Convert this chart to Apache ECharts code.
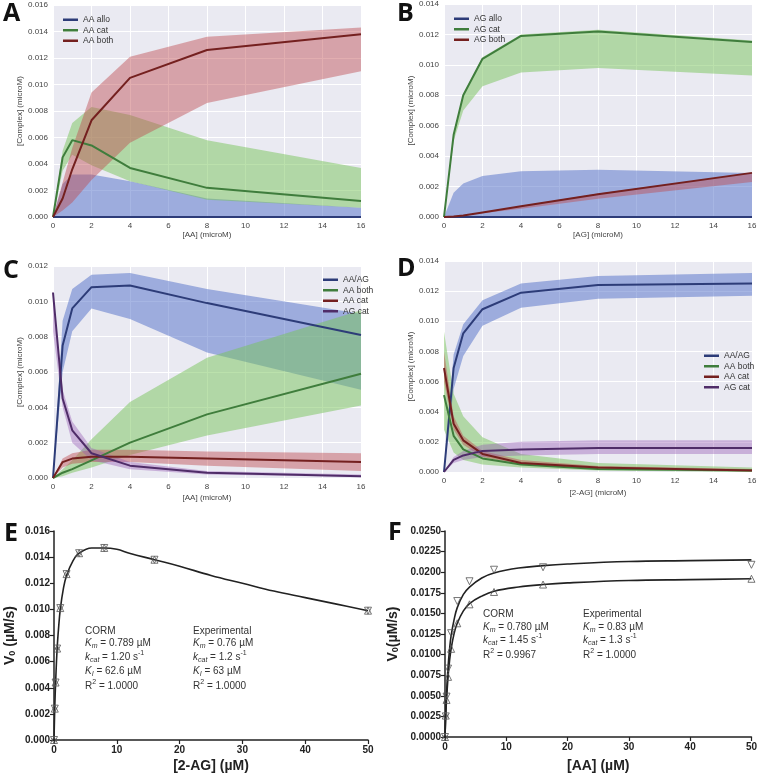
<!DOCTYPE html>
<html><head><meta charset="utf-8">
<script src="https://cdn.jsdelivr.net/npm/echarts@6/dist/echarts.min.js"></script>
<style>html,body{margin:0;padding:0;background:#fff}#c{width:760px;height:775px}</style>
</head><body><div id="c"></div>
<script>
// ---------- data: panels A-D (seaborn time-series, mean + CI band) ----------
const xConc = [0, 0.5, 1, 2, 4, 8, 16];

// Panel A
const aAlloMean = [0, 0, 0, 0, 0, 0, 0];
const aAlloLow  = [0, 0, 0, 0, 0, 0, 0];
const aAlloHigh = [0, 0.0025, 0.0032, 0.0032, 0.0027, 0.0014, 0.0007];
const aCatMean  = [0, 0.0045, 0.0058, 0.0054, 0.0037, 0.0022, 0.0012];
const aCatLow   = [0, 0.0035, 0.0047, 0.0039, 0.0027, 0.0013, 0.0007];
const aCatHigh  = [0, 0.0050, 0.0071, 0.0083, 0.0077, 0.0058, 0.0037];
const aBothMean = [0, 0.0014, 0.0036, 0.0073, 0.0105, 0.0126, 0.0138];
const aBothLow  = [0, 0.0005, 0.0011, 0.0028, 0.0056, 0.0086, 0.0110];
const aBothHigh = [0, 0.0026, 0.0052, 0.0094, 0.0121, 0.0136, 0.0143];

// Panel B
const bAlloMean = [0, 0, 0, 0, 0, 0, 0];
const bAlloLow  = [0, 0, 0, 0, 0, 0, 0];
const bAlloHigh = [0, 0.0016, 0.0022, 0.0027, 0.0030, 0.0031, 0.0029];
const bCatMean  = [0, 0.0054, 0.0080, 0.0104, 0.0119, 0.0122, 0.0115];
const bCatLow   = [0, 0.0050, 0.0070, 0.0086, 0.0095, 0.0098, 0.0093];
const bCatHigh  = [0, 0.0055, 0.0081, 0.0105, 0.0120, 0.0123, 0.0116];
const bBothMean = [0, 0.00003, 0.0001, 0.0003, 0.0007, 0.0015, 0.0029];
const bBothLow  = [0, 0.00002, 0.00008, 0.00024, 0.00055, 0.0012, 0.0023];
const bBothHigh = [0, 0.00004, 0.00011, 0.00031, 0.00072, 0.00155, 0.0029];

// Panel C
const cAAAGMean  = [0, 0.0075, 0.0096, 0.0108, 0.0109, 0.0099, 0.0081];
const cAAAGLow   = [0, 0.0060, 0.0083, 0.0096, 0.0090, 0.0071, 0.0050];
const cAAAGHigh  = [0, 0.0089, 0.0107, 0.0115, 0.0116, 0.0107, 0.0093];
const cBothMean  = [0, 0.0003, 0.0005, 0.0010, 0.0020, 0.0036, 0.0059];
const cBothLow   = [0, 0.0001, 0.0003, 0.0006, 0.0013, 0.0024, 0.0041];
const cBothHigh  = [0, 0.0005, 0.0010, 0.0022, 0.0043, 0.0068, 0.0095];
const cAACatMean = [0, 0.0009, 0.0011, 0.0012, 0.0012, 0.0011, 0.0009];
const cAACatLow  = [0, 0.0006, 0.0008, 0.0009, 0.0009, 0.0007, 0.0004];
const cAACatHigh = [0, 0.0011, 0.0014, 0.0016, 0.0016, 0.0015, 0.0014];
const cAGCatMean = [0.0105, 0.0045, 0.0027, 0.0014, 0.0007, 0.0003, 0.0001];
const cAGCatLow  = [0.0083, 0.0040, 0.0020, 0.0010, 0.0005, 0.0002, 0.00005];
const cAGCatHigh = [0.0105, 0.0050, 0.0032, 0.0017, 0.0009, 0.0004, 0.0002];

// Panel D
const dAAAGMean  = [0, 0.0069, 0.0092, 0.0108, 0.0119, 0.0124, 0.0125];
const dAAAGLow   = [0, 0.0055, 0.0077, 0.0097, 0.0109, 0.0115, 0.0117];
const dAAAGHigh  = [0, 0.0078, 0.0098, 0.0114, 0.0125, 0.0130, 0.0132];
const dBothMean  = [0.0051, 0.0024, 0.0015, 0.0009, 0.0005, 0.0002, 0.0001];
const dBothLow   = [0.0028, 0.0013, 0.0008, 0.0005, 0.0003, 0.0001, 0.0000];
const dBothHigh  = [0.0093, 0.0052, 0.0037, 0.0023, 0.0012, 0.0006, 0.0003];
const dAACatMean = [0.0069, 0.0032, 0.0021, 0.0012, 0.0006, 0.0003, 0.0001];
const dAACatLow  = [0.0060, 0.0028, 0.0018, 0.0010, 0.0005, 0.0002, 0.0001];
const dAACatHigh = [0.0080, 0.0037, 0.0024, 0.0014, 0.0008, 0.0004, 0.0002];
const dAGCatMean = [0, 0.0008, 0.0011, 0.0014, 0.0015, 0.0016, 0.0016];
const dAGCatLow  = [0, 0.0006, 0.0008, 0.0010, 0.0011, 0.0012, 0.0012];
const dAGCatHigh = [0, 0.0010, 0.0014, 0.0018, 0.0020, 0.0021, 0.0021];

// ---------- data: panel E ----------
const ePtsX = [0, 0.125, 0.25, 0.5, 1, 2, 4, 8, 16, 50];
const ePtsCorm = [0, 0.0024, 0.0044, 0.0070, 0.0101, 0.0127, 0.0143, 0.0147, 0.0138, 0.0099];
const ePtsExp  = [0, 0.0024, 0.0044, 0.0070, 0.0101, 0.0127, 0.0143, 0.0147, 0.0138, 0.0099];
const eCurveX = [0, 0.125, 0.25, 0.5, 0.75, 1, 1.5, 2, 3, 4, 6, 8, 10, 12, 16, 20, 25, 30, 35, 40, 45, 50];
const eCurveY = [0, 0.0025, 0.0043, 0.0070, 0.0087, 0.0100, 0.0116, 0.0126, 0.0137, 0.0143, 0.0147, 0.0147, 0.0146, 0.0143, 0.0138, 0.0133, 0.0126, 0.0120, 0.0114, 0.0109, 0.0104, 0.0099];

// ---------- data: panel F ----------
const fPtsX = [0, 0.125, 0.25, 0.5, 1, 2, 4, 8, 16, 50];
const fPtsCorm = [0, 0.0025, 0.0049, 0.0083, 0.0126, 0.0165, 0.0189, 0.0203, 0.0206, 0.0209];
const fPtsExp  = [0, 0.0026, 0.0045, 0.0073, 0.0107, 0.0138, 0.0161, 0.0176, 0.0185, 0.0192];
const fCurveX = [0, 0.125, 0.25, 0.5, 0.75, 1, 1.5, 2, 3, 4, 6, 8, 12, 16, 20, 30, 40, 50];
const fCurveCorm = [0, 0.0030, 0.0053, 0.0085, 0.0107, 0.0123, 0.0143, 0.0157, 0.0173, 0.0182, 0.0193, 0.0199, 0.0205, 0.0208, 0.0210, 0.0213, 0.0214, 0.0215];
const fCurveExp  = [0, 0.0026, 0.0045, 0.0073, 0.0093, 0.0107, 0.0126, 0.0138, 0.0153, 0.0162, 0.0171, 0.0177, 0.0182, 0.0185, 0.0187, 0.0190, 0.0191, 0.0192];

// ---------- styles ----------
const FONT = '"Liberation Sans", Arial, sans-serif';
const L_BLUE = '#2d3c78', L_GREEN = '#3f7d3c', L_RED = '#74201f', L_PURPLE = '#4f2c68';
const B_BLUE = 'rgba(80,110,200,0.5)', B_GREEN = 'rgba(120,195,90,0.5)',
      B_RED = 'rgba(190,75,80,0.45)', B_PURPLE = 'rgba(150,90,180,0.4)';

const grids = [
  {left: 53, top: 5, width: 308, height: 212},
  {left: 444, top: 4, width: 308, height: 213},
  {left: 53, top: 266, width: 308, height: 212},
  {left: 444, top: 261, width: 308, height: 211},
  {left: 54, top: 531, width: 314, height: 209},
  {left: 445, top: 531, width: 308, height: 206}
];
grids.forEach((g, i) => {
  if (i < 4) { g.show = true; g.backgroundColor = '#eaeaf2'; g.borderWidth = 0; }
});

function sbX(g, name, gap) {
  return {type: 'value', gridIndex: g, min: 0, max: 16, interval: 2,
    axisLine: {show: false}, axisTick: {show: false},
    splitLine: {show: true, lineStyle: {color: '#ffffff', width: 1}},
    axisLabel: {color: '#444', fontSize: 8, fontFamily: FONT, margin: 5},
    name: name, nameLocation: 'middle', nameGap: gap,
    nameTextStyle: {color: '#444', fontSize: 8, fontFamily: FONT}};
}
function sbY(g, max) {
  return {type: 'value', gridIndex: g, min: 0, max: max, interval: 0.002,
    axisLine: {show: false}, axisTick: {show: false},
    splitLine: {show: true, lineStyle: {color: '#ffffff', width: 1}},
    axisLabel: {color: '#444', fontSize: 8, fontFamily: FONT, margin: 5,
      formatter: v => v.toFixed(3)},
    name: '[Complex] (microM)', nameLocation: 'middle', nameGap: 28,
    nameTextStyle: {color: '#444', fontSize: 8, fontFamily: FONT}};
}
function band(name, g, low, high, color) {
  return {type: 'custom', name: name, xAxisIndex: g, yAxisIndex: g, silent: true, z: 2,
    data: xConc.map((x, i) => [x, low[i], high[i]]),
    encode: {x: 0, y: [1, 2]},
    renderItem: (params, api) => {
      if (params.dataIndex !== 0) return null;
      const pts = [];
      for (let i = 0; i < xConc.length; i++) pts.push(api.coord([xConc[i], high[i]]));
      for (let i = xConc.length - 1; i >= 0; i--) pts.push(api.coord([xConc[i], low[i]]));
      return {type: 'polygon', shape: {points: pts}, style: {fill: color}};
    }};
}
function meanLine(name, g, mean, color) {
  return {type: 'line', name: name, xAxisIndex: g, yAxisIndex: g, z: 3,
    data: xConc.map((x, i) => [x, mean[i]]),
    symbol: 'none', showSymbol: false, color: color,
    lineStyle: {color: color, width: 2}};
}
function sbLegend(names, left, top) {
  return {orient: 'vertical', left: left, top: top, icon: 'rect', itemWidth: 15, itemHeight: 2.5,
    itemGap: 1, selectedMode: false, data: names,
    formatter: n => n.split(':')[1],
    textStyle: {fontSize: 8.5, color: '#333', fontFamily: FONT, lineHeight: 9.5, padding: [0, 0, 0, 0]}};
}

// E/F axes
function kinX(g, name, gap) {
  return {type: 'value', gridIndex: g, min: 0, max: 50, interval: 10,
    axisLine: {show: true, onZero: false, lineStyle: {color: '#222', width: 1.5}},
    axisTick: {show: true, length: 4, lineStyle: {color: '#222', width: 1.2}},
    splitLine: {show: false},
    axisLabel: {color: '#222', fontSize: 10, fontWeight: 'bold', fontFamily: FONT, margin: 5},
    name: name, nameLocation: 'middle', nameGap: gap,
    nameTextStyle: {color: '#222', fontSize: 14, fontWeight: 'bold', fontFamily: FONT}};
}
function kinY(g, max, interval, dec, name, gap) {
  return {type: 'value', gridIndex: g, min: 0, max: max, interval: interval,
    axisLine: {show: true, onZero: false, lineStyle: {color: '#222', width: 1.5}},
    axisTick: {show: true, length: 4, lineStyle: {color: '#222', width: 1.2}},
    splitLine: {show: false},
    axisLabel: {color: '#222', fontSize: 10, fontWeight: 'bold', fontFamily: FONT, margin: 4,
      formatter: v => v.toFixed(dec)},
    name: name, nameLocation: 'middle', nameGap: gap,
    nameTextStyle: {color: '#222', fontSize: 14, fontWeight: 'bold', fontFamily: FONT,
      rich: {b: {fontSize: 14, fontWeight: 'bold', fontFamily: FONT, color: '#222'},
             s: {fontSize: 9, fontWeight: 'bold', fontFamily: FONT, color: '#222', verticalAlign: 'bottom', lineHeight: 14}}}};
}
function pts(name, g, xs, ys, rotate) {
  return {type: 'scatter', name: name, xAxisIndex: g, yAxisIndex: g, z: 4,
    data: xs.map((x, i) => [x, ys[i]]),
    symbol: 'triangle', symbolSize: 7, symbolRotate: rotate,
    itemStyle: {color: 'rgba(255,255,255,0)', borderColor: '#555', borderWidth: 1}};
}
function curve(name, g, xs, ys) {
  return {type: 'line', name: name, xAxisIndex: g, yAxisIndex: g, z: 3,
    data: xs.map((x, i) => [x, ys[i]]), smooth: 0.4,
    symbol: 'none', showSymbol: false, color: '#222',
    lineStyle: {color: '#222', width: 1.6}};
}

// annotation text
const richAnn = {
  i:  {fontStyle: 'italic', fontSize: 10, fontFamily: FONT, fill: '#333', lineHeight: 14},
  si: {fontStyle: 'italic', fontSize: 7, fontFamily: FONT, fill: '#333', verticalAlign: 'bottom', lineHeight: 14},
  sp: {fontSize: 7, fontFamily: FONT, fill: '#333', verticalAlign: 'top', lineHeight: 14}
};
const eCormText = ['CORM', '{i|K}{si|m} = 0.789 µM', '{i|k}{si|cat} = 1.20 s{sp|-1}', '{i|K}{si|I} = 62.6 µM', 'R{sp|2} = 1.0000'];
const eExpText  = ['Experimental', '{i|K}{si|m} = 0.76 µM', '{i|k}{si|cat} = 1.2 s{sp|-1}', '{i|K}{si|I} = 63 µM', 'R{sp|2} = 1.0000'];
const fCormText = ['CORM', '{i|K}{si|m} = 0.780 µM', '{i|k}{si|cat} = 1.45 s{sp|-1}', 'R{sp|2} = 0.9967'];
const fExpText  = ['Experimental', '{i|K}{si|m} = 0.83 µM', '{i|k}{si|cat} = 1.3 s{sp|-1}', 'R{sp|2} = 1.0000'];
const eLineY = [631, 643, 657, 671, 686];
const fLineY = [614, 627, 640, 655];

function annText(lines, x, ys) {
  return lines.map((t, i) => ({type: 'text', x: x, y: ys[i], z: 10,
    style: {text: t, fill: '#333', font: '10px ' + FONT, verticalAlign: 'middle', lineHeight: 14, rich: richAnn}}));
}
function letter(t, x, y) {
  return {type: 'text', x: x, y: y, z: 10,
    style: {text: t, fill: '#111', font: 'bold 25px "Open Sans", "Liberation Sans", sans-serif', verticalAlign: 'top'}};
}

const option = {
  animation: false,
  backgroundColor: '#ffffff',
  grid: grids,
  xAxis: [
    sbX(0, '[AA] (microM)', 14), sbX(1, '[AG] (microM)', 14),
    sbX(2, '[AA] (microM)', 16), sbX(3, '[2-AG] (microM)', 17),
    kinX(4, '[2-AG] (µM)', 19), kinX(5, '[AA] (µM)', 22)
  ],
  yAxis: [
    sbY(0, 0.016), sbY(1, 0.014), sbY(2, 0.012), sbY(3, 0.014),
    kinY(4, 0.016, 0.002, 3, '{b|V}{s|0}{b| (µM/s)}', 37),
    kinY(5, 0.025, 0.0025, 4, '{b|V}{s|0}{b|(µM/s)}', 45)
  ],
  legend: [
    sbLegend(['A:AA allo', 'A:AA cat', 'A:AA both'], 58, 10),
    sbLegend(['B:AG allo', 'B:AG cat', 'B:AG both'], 449, 9),
    sbLegend(['C:AA/AG', 'C:AA both', 'C:AA cat', 'C:AG cat'], 318, 270),
    sbLegend(['D:AA/AG', 'D:AA both', 'D:AA cat', 'D:AG cat'], 699, 346)
  ],
  series: [
    // A
    band('bA1', 0, aAlloLow, aAlloHigh, B_BLUE),
    band('bA2', 0, aCatLow, aCatHigh, B_GREEN),
    band('bA3', 0, aBothLow, aBothHigh, B_RED),
    meanLine('A:AA allo', 0, aAlloMean, L_BLUE),
    meanLine('A:AA cat', 0, aCatMean, L_GREEN),
    meanLine('A:AA both', 0, aBothMean, L_RED),
    // B
    band('bB1', 1, bAlloLow, bAlloHigh, B_BLUE),
    band('bB2', 1, bCatLow, bCatHigh, B_GREEN),
    band('bB3', 1, bBothLow, bBothHigh, B_RED),
    meanLine('B:AG allo', 1, bAlloMean, L_BLUE),
    meanLine('B:AG cat', 1, bCatMean, L_GREEN),
    meanLine('B:AG both', 1, bBothMean, L_RED),
    // C
    band('bC1', 2, cAAAGLow, cAAAGHigh, B_BLUE),
    band('bC2', 2, cBothLow, cBothHigh, B_GREEN),
    band('bC3', 2, cAACatLow, cAACatHigh, B_RED),
    band('bC4', 2, cAGCatLow, cAGCatHigh, B_PURPLE),
    meanLine('C:AA/AG', 2, cAAAGMean, L_BLUE),
    meanLine('C:AA both', 2, cBothMean, L_GREEN),
    meanLine('C:AA cat', 2, cAACatMean, L_RED),
    meanLine('C:AG cat', 2, cAGCatMean, L_PURPLE),
    // D
    band('bD1', 3, dAAAGLow, dAAAGHigh, B_BLUE),
    band('bD2', 3, dBothLow, dBothHigh, B_GREEN),
    band('bD3', 3, dAACatLow, dAACatHigh, B_RED),
    band('bD4', 3, dAGCatLow, dAGCatHigh, B_PURPLE),
    meanLine('D:AA/AG', 3, dAAAGMean, L_BLUE),
    meanLine('D:AA both', 3, dBothMean, L_GREEN),
    meanLine('D:AA cat', 3, dAACatMean, L_RED),
    meanLine('D:AG cat', 3, dAGCatMean, L_PURPLE),
    // E
    curve('E:fit', 4, eCurveX, eCurveY),
    pts('E:CORM', 4, ePtsX, ePtsCorm, 180),
    pts('E:Experimental', 4, ePtsX, ePtsExp, 0),
    // F
    curve('F:fitCORM', 5, fCurveX, fCurveCorm),
    curve('F:fitExp', 5, fCurveX, fCurveExp),
    pts('F:CORM', 5, fPtsX, fPtsCorm, 180),
    pts('F:Experimental', 5, fPtsX, fPtsExp, 0)
  ],
  graphic: [].concat(
    annText(eCormText, 85, eLineY), annText(eExpText, 193, eLineY),
    annText(fCormText, 483, fLineY), annText(fExpText, 583, fLineY),
    [letter('A', 3, 1), letter('B', 397, 1), letter('C', 3, 258), letter('D', 397, 256),
     letter('E', 4, 521), letter('F', 388, 520)]
  )
};

const chart = echarts.init(document.getElementById('c'), null, {renderer: 'canvas'});
chart.setOption(option);
</script></body></html>
